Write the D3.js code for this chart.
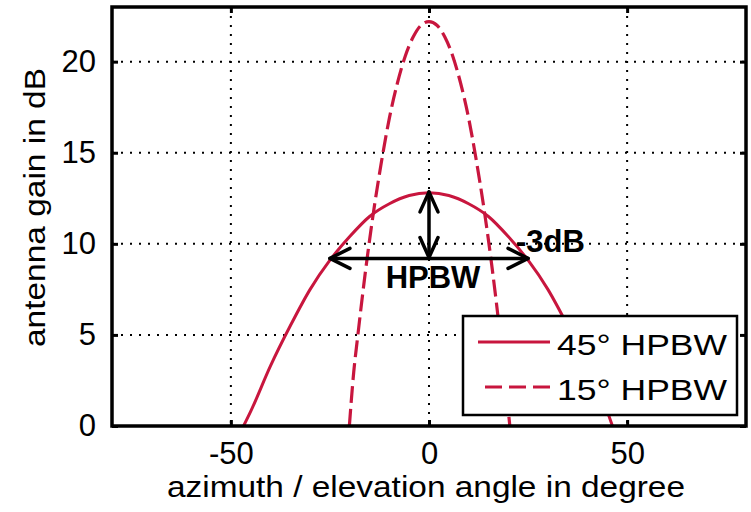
<!DOCTYPE html>
<html><head><meta charset="utf-8">
<script src="https://cdn.jsdelivr.net/npm/d3@7"></script>
<style>body{margin:0;background:#fff}svg{display:block}text{font-family:"Liberation Sans",Arial,sans-serif}</style>
</head><body><svg id="c" width="751" height="512"></svg>
<script>
// ---- data ----
const angles45 = [-46.8, -45, -40, -35, -30, -25, -20, -15, -10, -5, 0, 5, 10, 15, 20, 25, 30, 35, 40, 45, 46.3];
const gain45   = [0, 0.8, 3.3, 5.5, 7.5, 9.1, 10.4, 11.5, 12.2, 12.65, 12.8, 12.65, 12.2, 11.5, 10.4, 9.1, 7.5, 5.5, 3.3, 0.8, 0];
const angles15 = [-20.1, -19, -18, -16, -14, -12, -10, -8, -6, -4, -2, 0, 2, 4, 6, 8, 10, 12, 14, 16, 18, 19, 20.4];
const gain15   = [0, 2.95, 4.9, 8.55, 11.75, 14.5, 16.9, 18.8, 20.3, 21.35, 22.0, 22.2, 22.0, 21.35, 20.3, 18.8, 16.9, 14.5, 11.75, 8.55, 4.9, 2.95, 0];
const xTicks = [-50, 0, 50];
const yTicks = [0, 5, 10, 15, 20];
const xDomain = [-80, 80];
const yDomain = [0, 23];
const seriesNames = ["45° HPBW", "15° HPBW"];
const xLabel = "azimuth / elevation angle in degree";
const yLabel = "antenna gain in dB";
const hpbwArrowX = [-25, 25];
const hpbwArrowY = 9.2;
const dbArrowY = [12.85, 9.25];
const annotations = ["HPBW", "-3dB"];

const red = "#c8163e";
const svg = d3.select("#c");
const L = 112, R = 746, T = 7, B = 426;
const x = d3.scaleLinear().domain(xDomain).range([L, R]);
const y = d3.scaleLinear().domain(yDomain).range([B, T]);

svg.append("defs").append("clipPath").attr("id","clip")
  .append("rect").attr("x",L).attr("y",T).attr("width",R-L).attr("height",B-T);

// grid
const g = svg.append("g");
g.selectAll(".gx").data(xTicks).join("line")
  .attr("x1",d=>x(d)).attr("x2",d=>x(d)).attr("y1",T).attr("y2",B)
  .attr("stroke","#000").attr("stroke-width",2).attr("stroke-dasharray","2,7");
g.selectAll(".gy").data(yTicks).join("line")
  .attr("y1",d=>y(d)).attr("y2",d=>y(d)).attr("x1",L).attr("x2",R)
  .attr("stroke","#000").attr("stroke-width",2).attr("stroke-dasharray","2,7");

// curves
const line = d3.line().x(d=>x(d[0])).y(d=>y(d[1])).curve(d3.curveMonotoneX);
const d45 = angles45.map((a,i)=>[a,gain45[i]]);
const d15 = angles15.map((a,i)=>[a,gain15[i]]);
const cg = svg.append("g").attr("clip-path","url(#clip)");
cg.append("path").attr("d",line(d45)).attr("fill","none").attr("stroke",red).attr("stroke-width",3);
cg.append("path").attr("d",line(d15)).attr("fill","none").attr("stroke",red).attr("stroke-width",3.2).attr("stroke-dasharray","17,6");

// axes (inner ticks on all sides)
const tickLen = -6;
const ax = svg.append("g").attr("font-size",31);
const fmt = d => String(d);
const axB = d3.axisBottom(x).tickValues(xTicks).tickSize(tickLen).tickPadding(16).tickFormat(fmt);
const axL = d3.axisLeft(y).tickValues(yTicks).tickSize(tickLen).tickPadding(16).tickFormat(fmt);
const axT = d3.axisTop(x).tickValues(xTicks).tickSize(tickLen).tickFormat("");
const axR = d3.axisRight(y).tickValues(yTicks).tickSize(tickLen).tickFormat("");
[[axB,`translate(0,${B})`],[axL,`translate(${L},0)`],[axT,`translate(0,${T})`],[axR,`translate(${R},0)`]].forEach(([a,t])=>{
  const gg = ax.append("g").attr("transform",t).call(a);
  gg.select(".domain").remove();
  gg.selectAll(".tick line").attr("stroke","#000").attr("stroke-width",3);
  gg.selectAll(".tick text").attr("fill","#000").attr("font-size",31).attr("font-family",'"Liberation Sans",Arial,sans-serif');
});
// frame
svg.append("rect").attr("x",L).attr("y",T).attr("width",R-L).attr("height",B-T)
  .attr("fill","none").attr("stroke","#000").attr("stroke-width",3.5);

// labels
svg.append("text").attr("x",(167+685)/2).attr("y",497).attr("text-anchor","middle")
  .attr("font-size",29).attr("textLength",518).attr("lengthAdjust","spacingAndGlyphs").text(xLabel);
svg.append("text").attr("transform","translate(45,207.5) rotate(-90)").attr("text-anchor","middle")
  .attr("font-size",29).attr("textLength",279).attr("lengthAdjust","spacingAndGlyphs").text(yLabel);

// annotations
const ann = svg.append("g").attr("stroke","#000").attr("stroke-width",3.5).attr("fill","none").attr("stroke-linecap","round").attr("stroke-linejoin","round");
const hx0 = x(hpbwArrowX[0]), hx1 = x(hpbwArrowX[1]), hy = y(hpbwArrowY);
ann.append("line").attr("x1",hx0).attr("x2",hx1).attr("y1",hy).attr("y2",hy);
ann.append("path").attr("d",`M${hx0+20},${hy-10}L${hx0},${hy}L${hx0+20},${hy+10}`);
ann.append("path").attr("d",`M${hx1-20},${hy-10}L${hx1},${hy}L${hx1-20},${hy+10}`);
const vx = x(0), vy0 = y(dbArrowY[0]), vy1 = y(dbArrowY[1]);
ann.append("line").attr("x1",vx).attr("x2",vx).attr("y1",vy0).attr("y2",vy1);
ann.append("path").attr("d",`M${vx-9},${vy0+20}L${vx},${vy0}L${vx+9},${vy0+20}`);
ann.append("path").attr("d",`M${vx-9},${vy1-20}L${vx},${vy1}L${vx+9},${vy1-20}`);
svg.append("text").attr("x",433).attr("y",288).attr("text-anchor","middle").attr("font-weight","bold")
  .attr("font-size",31).text(annotations[0]);
svg.append("text").attr("x",516).attr("y",252).attr("font-weight","bold")
  .attr("font-size",31).text(annotations[1]);

// legend
const lg = svg.append("g");
lg.append("rect").attr("x",463).attr("y",316).attr("width",274).attr("height",99)
  .attr("fill","#fff").attr("stroke","#000").attr("stroke-width",2.5);
lg.append("line").attr("x1",478).attr("x2",550).attr("y1",342).attr("y2",342).attr("stroke",red).attr("stroke-width",3);
lg.append("line").attr("x1",485).attr("x2",550).attr("y1",387).attr("y2",387).attr("stroke",red).attr("stroke-width",3.2).attr("stroke-dasharray","17,7");
lg.selectAll("text.lt").data(seriesNames).join("text").attr("class","lt")
  .attr("x",557).attr("y",(d,i)=>i?400:355).attr("font-size",30)
  .attr("textLength",170).attr("lengthAdjust","spacingAndGlyphs").text(d=>d);
</script></body></html>
